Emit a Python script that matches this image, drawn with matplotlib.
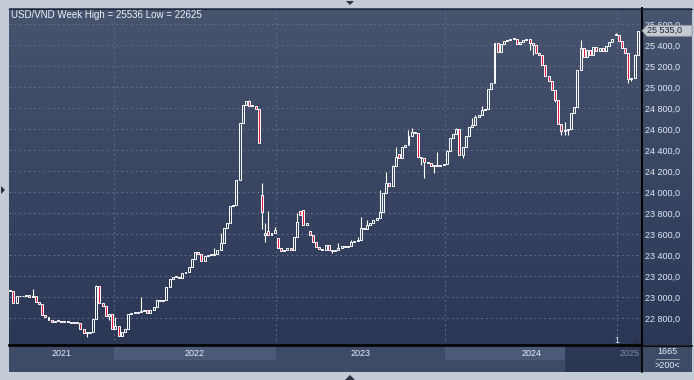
import matplotlib
matplotlib.use("Agg")
import matplotlib.pyplot as plt
from matplotlib.colors import LinearSegmentedColormap
from matplotlib.patches import Rectangle, Polygon
from matplotlib.lines import Line2D
from matplotlib.ticker import FuncFormatter
import numpy as np

# weekly closes (VND per USD)
closes = [
    23055, 22945, 23005, 23010, 23005, 23015, 23000, 23010, 22950, 22930,
    22830, 22810, 22780, 22765, 22775, 22770, 22760, 22765, 22760, 22755,
    22755, 22750, 22700, 22655, 22660, 22670, 22790, 23105, 22945, 22915,
    22820, 22840, 22700, 22720, 22630, 22670, 22700, 22840, 22845, 22850,
    22860, 22870, 22875, 22845, 22875, 22905, 22970, 22965, 22975, 23100,
    23170, 23190, 23195, 23185, 23225, 23240, 23290, 23365, 23425, 23410,
    23340, 23390, 23400, 23400, 23410, 23445, 23510, 23655, 23705, 23865,
    23880, 24115, 24660, 24830, 24865, 24820, 24815, 24795, 24470, 23810,
    23610, 23590, 23610, 23640, 23470, 23440, 23445, 23465, 23445, 23575,
    23715, 23785, 23685, 23700, 23590, 23525, 23475, 23455, 23445, 23495,
    23445, 23440, 23450, 23470, 23485, 23480, 23485, 23525, 23535, 23540,
    23655, 23650, 23685, 23700, 23735, 23750, 23810, 23990, 24085, 24055,
    24250, 24335, 24320, 24430, 24450, 24535, 24575, 24560, 24335, 24320,
    24290, 24280, 24245, 24255, 24250, 24255, 24265, 24395, 24510, 24550,
    24600, 24350, 24430, 24535, 24620, 24640, 24710, 24735, 24780, 24795,
    24985, 25035, 25415, 25335, 25410, 25435, 25450, 25460, 25455, 25410,
    25425, 25445, 25455, 25415, 25400, 25320, 25305, 25210, 25100, 25055,
    24970, 24875, 24645, 24580, 24590, 24600, 24750, 24810, 25160, 25375,
    25290, 25350, 25300, 25380, 25345, 25370, 25345, 25390, 25430, 25455,
    25495, 25440, 25370, 25320, 25080, 25085, 25305, 25535,
]
# opens that gap away from the previous close
gap_opens = {59: 23430, 79: 23970, 80: 23590, 81: 23630, 84: 23560, 91: 23820,
             92: 23825, 94: 23625, 122: 24360, 153: 25420, 190: 25505}
# visible wicks
highs = {7: 23076, 27: 23115, 33: 22812, 41: 23000, 64: 23465, 66: 23612,
         75: 24876, 79: 24090, 80: 23700, 81: 23818, 83: 23663, 90: 23796,
         103: 23510, 107: 23545, 109: 23575, 110: 23765, 112: 23730, 116: 24020,
         118: 24194, 120: 24260, 121: 24430, 125: 24590, 126: 24613, 134: 24378,
         137: 24400, 140: 24613, 145: 24700, 146: 24733, 148: 24820, 174: 24669,
         179: 25447, 190: 25510, 196: 25310}
lows = {24: 22622, 31: 22781, 34: 22625, 57: 23314, 73: 24653, 79: 23650,
        80: 23526, 101: 23415, 129: 24257, 130: 24130, 133: 24178, 142: 24320,
        163: 25350, 164: 25305, 171: 24860, 173: 24542, 174: 24542, 175: 24545,
        194: 25034, 195: 25060}

year_labels = ["2021", "2022", "2023", "2024", "2025"]
year_start_bar = [33, 84, 137, 191]  # first bar of 2022 .. 2025
last_price = 25535.0
title = "USD/VND Week High = 25536 Low = 22625"
bars_total = "1665"
bars_shown = ">200<"

W, H = 694, 380


def fx(px):
    return px / W


def fy(py):
    return 1 - py / H


def vnd(v, pos=None):
    return f"{v:,.1f}".replace(",", " ").replace(".", ",")


plt.rcParams['font.family'] = ['Liberation Sans', 'DejaVu Sans']
fig = plt.figure(figsize=(W / 100, H / 100), dpi=100, facecolor='#c3cbd7')

# gradient background for plot + price scale
bg = fig.add_axes([fx(9), fy(345), (692 - 9) / W, (345 - 8) / H], zorder=0)
grad = np.linspace(0, 1, 256).reshape(-1, 1)
cmap = LinearSegmentedColormap.from_list('bg', ['#48546e', '#2b3755'])
bg.imshow(grad, aspect='auto', cmap=cmap, extent=[0, 1, 0, 1])
bg.set_axis_off()

ax = fig.add_axes([fx(9), fy(345), (642 - 9) / W, (345 - 8) / H], zorder=2)
ax.patch.set_alpha(0)

n = len(closes)
opens = [closes[0]] + closes[:-1]
for i, v in gap_opens.items():
    opens[i] = v

for i in range(n):
    o, c = opens[i], closes[i]
    top, bot = max(o, c), min(o, c)
    hi = highs.get(i, top)
    lo = lows.get(i, bot)
    if hi > top:
        ax.vlines(i, top, hi, color='white', lw=0.8, zorder=3)
    if lo < bot:
        ax.vlines(i, lo, bot, color='white', lw=0.8, zorder=3)
    face = '#e8173f' if c < o else 'none'
    ax.bar(i, max(top - bot, 9), bottom=bot, width=0.62, color=face,
           edgecolor='white', linewidth=0.7, zorder=4)

ax.set_xlim(-0.4, n + 0.3)
ax.set_ylim(22543, 25752)
yt = np.arange(22800, 25601, 200)
ax.set_yticks(yt)
ax.yaxis.set_major_formatter(FuncFormatter(vnd))
ax.yaxis.tick_right()
ax.tick_params(axis='y', length=0, pad=2.5, labelsize=6.5, labelcolor='#e2eaf7')
ax.set_xticks([])
for y in yt:
    ax.axhline(y, color='#5f6e8a', lw=0.7, dashes=(2, 3), zorder=1)
for b in year_start_bar:
    ax.axvline(b - 0.5, color='#5f6e8a', lw=0.7, dashes=(2, 3), zorder=1)
for s in ['left', 'top']:
    ax.spines[s].set_visible(False)
ax.spines['right'].set_color('black')
ax.spines['bottom'].set_color('black')
ax.spines['right'].set_linewidth(1.2)
ax.spines['bottom'].set_linewidth(1.2)

ax.text(0.0035, 0.979, title, transform=ax.transAxes, fontsize=7,
        color='#eef2f8', va='center', ha='left', zorder=6)
ax.text(n - 7.6, 22590, "1", fontsize=6.5, color='#d8e4f4', ha='center',
        va='center', zorder=6)

# year band under the plot
bx = fig.add_axes([fx(9), fy(372), (642 - 9) / W, (372 - 346) / H], sharex=ax, zorder=1)
bx.set_facecolor('#3d4b67')
bx.set_ylim(0, 1)
bx.set_yticks([])
bx.tick_params(axis='x', length=0, labelbottom=False)
for s in bx.spines.values():
    s.set_visible(False)
edges = [-0.4] + [b - 0.5 for b in year_start_bar] + [n + 0.3]
for k, lab in enumerate(year_labels):
    a, b = edges[k], edges[k + 1]
    if k % 2 == 1:
        bx.add_patch(Rectangle((a, 0.46), b - a, 0.54, color='#4b5a77', lw=0, zorder=1))
    col = '#7e8ca5' if k == len(year_labels) - 1 else '#e6eefa'
    bx.text((a + b) / 2, 0.72, lab, fontsize=6.5, color=col, ha='center',
            va='center', zorder=3)
bx.add_patch(Rectangle((0.878, 0), 0.122, 1, transform=bx.transAxes,
                       color='#28344e', alpha=0.85, lw=0, zorder=2))

# bottom-right counter box
fig.add_artist(Rectangle((fx(642), fy(372)), 50 / W, 26 / H, transform=fig.transFigure,
                         color='#3d4b67', lw=0, zorder=1))
fig.text(fx(667), fy(352), bars_total, fontsize=6.5, color='#e6eefa', ha='center', va='center')
fig.add_artist(Line2D([fx(656), fx(679)], [fy(358.5), fy(358.5)], color='#9aa6ba', lw=0.6))
fig.text(fx(667), fy(366), bars_shown, fontsize=6.5, color='#e6eefa', ha='center', va='center')

# separators
fig.add_artist(Line2D([fx(642), fx(642)], [fy(8), fy(372)], color='black', lw=1.2, zorder=5))
fig.add_artist(Line2D([fx(9), fx(692)], [fy(345.5), fy(345.5)], color='black', lw=1.2, zorder=5))
fig.add_artist(Line2D([fx(9), fx(692)], [fy(8.5), fy(8.5)], color='#20283a', lw=0.8, zorder=5))

# last price marker (covers the top scale label, as in the original)
py = 8 + (25752 - last_price) / (25752 - 22543) * 337
pts = [(fx(642), fy(py)), (fx(647), fy(py - 5.5)), (fx(692), fy(py - 5.5)),
       (fx(692), fy(py + 5.5)), (fx(647), fy(py + 5.5))]
fig.add_artist(Polygon(pts, closed=True, transform=fig.transFigure, facecolor='#c6cad1',
                       edgecolor='#8d929c', lw=0.6, zorder=6))
fig.text(fx(647), fy(py), vnd(last_price), fontsize=6.5, color='#1b2232',
         ha='left', va='center', zorder=7)

# small scroll arrows in the frame
for tri in ([(346, 1), (354, 1), (350, 5)],
            [(1, 186), (1, 194), (5, 190)],
            [(345, 380), (355, 380), (350, 375)],
            [(633, 343), (640, 343), (636.5, 339)]):
    fig.add_artist(Polygon([(fx(a), fy(b)) for a, b in tri], closed=True,
                           transform=fig.transFigure, color='#2a3142', lw=0, zorder=6))

fig.savefig("out.png", dpi=100, facecolor=fig.get_facecolor())
